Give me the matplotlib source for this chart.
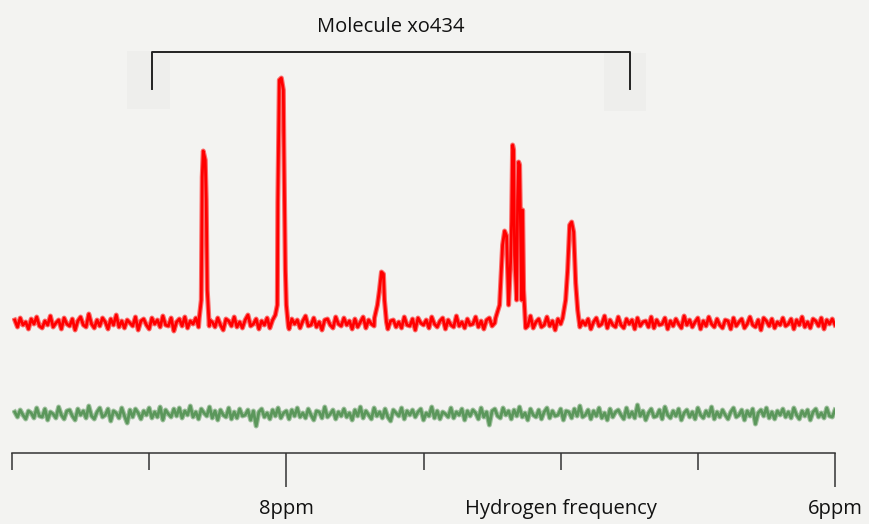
import matplotlib.pyplot as plt
import numpy as np

plt.rcParams['font.family'] = ['Open Sans', 'DejaVu Sans']

# baseline noise of the two traces, one value every 0.01 ppm starting at 8.99 ppm
red_noise = [
    3, -4, 5, -2, 1, -6, 4, -1, 6, -3, -5, 2, -2, 7, -4, 0, 3, -6, 5, -1,
    -3, 4, -7, 2, 6, -2, -4, 9, -1, -5, 3, -3, 5, 1, -6, 4, -2, 8, -4, 2,
    -5, 3, 0, -3, 6, -7, 2, 4, -2, -6, 5, -1, 3, -4, 7, -2, -3, 5, -8, 1,
    4, -3, 6, -5, 2, -1, 5, -4, -2, 7, -6, 3, 1, -4, 5, -2, -7, 4, 2, -3,
    6, -4, 1, -5, 3, 8, -3, -1, 4, -6, 2, -2, 5, -5, 3, 0, -4, 6, -3, 2,
    -6, 4, -1, 3, -5, 2, 7, -3, -2, 5, -4, 1, -7, 3, 4, -2, -5, 6, -1, -3,
    5, -2, 2, -6, 4, -4, 1, 6, -5, 3, -1, -3, 8, -2, -4, 5, -6, 2, 3, -4,
    1, -5, 6, -2, -3, 4, -7, 5, 0, -2, 3, -5, 6, -1, -4, 2, 5, -6, 3, -2,
    -4, 7, -3, 1, -5, 4, -2, -1, 6, -4, 2, -6, 3, 5, -3, 0, -5, 4, -2, 6,
    -1, -4, 3, -6, 5, -2, 2, -3, 7, -5, 1, 4, -4, -2, 6, -3, 2, -7, 4, -1,
    3, -5, 5, -1, -3, 6, -4, 2, -2, 4, -6, 1, 5, -3, -1, 7, -5, 3, -2, -4,
    6, -2, -5, 4, -1, 3, -6, 5, -3, 1, 2, -4, 6, -5, 3, -2, -1, 5, -6, 2,
    -3, 4, -1, -5, 7, -2, 3, -4, 1, 5, -6, 2, -3, 6, -1, -4, 4, -2, -5, 3,
    2, -6, 5, -3, 1, 4, -5, -1, 6, -2, -4, 3, -7, 5, 2, -3, 4, -5, 1, -2,
    5, -3, -1, 4, -6, 3, -2, 6, -4, 1, -5, 4, 2, -3, 5, -6, 3, -1, 4, -2,
]
green_noise = [
    2, -3, 4, -1, -5, 3, 1, -4, 6, -2, -3, 5, -6, 2, 0, -4, 7, -1, -5, 3,
    4, -2, -6, 5, -1, 3, -4, 8, -2, -5, 2, 6, -3, -1, 5, -7, 3, 1, -4, 6,
    -2, -9, 4, -3, 5, 1, -5, 3, -1, 6, -4, 2, -3, 7, -6, 4, 0, -3, 5, -2,
    6, -4, 3, -1, 8, -3, 2, -5, 5, 1, -2, 7, -4, 3, -6, 4, -1, -3, 6, -5,
    2, -4, 5, -2, -1, 4, -6, 3, -12, 2, 5, -3, 1, -5, 4, -2, 6, -4, 1, 3,
    -5, 4, -2, 6, -3, 1, -4, 5, -1, -6, 3, 2, -4, 7, -3, 0, 4, -5, 2, -2,
    5, -3, 1, -6, 4, -2, 7, -4, 3, -1, -5, 6, -2, 2, -4, 5, -3, -7, 4, 1,
    -2, 6, -5, 3, -1, 4, -3, 2, 5, -6, 1, -2, 7, -4, 3, -5, 2, 0, -3, 6,
    -4, 2, -1, 5, -6, 3, -2, 4, 1, -5, 6, -3, 2, -11, 3, 5, -2, -4, 6, -1,
    3, -5, 4, -2, 7, -3, 1, -6, 5, -1, -3, 4, -5, 2, 6, -4, 3, -2, -1, 5,
    -6, 3, 2, -4, 5, -2, 8, -3, -1, 4, -5, 3, -2, 6, -4, 1, -6, 5, -3, 2,
    4, -1, -5, 6, -3, 2, -4, 9, -2, 3, -6, 1, 5, -3, -2, 4, -5, 7, -1, -4,
    3, -2, 5, -6, 1, 4, -3, 2, -5, 6, -1, -4, 3, -2, 7, -5, 2, -3, 4, -1,
    -5, 2, 6, -3, -1, 4, -6, 3, -2, 5, -10, 1, 4, -2, 6, -4, 2, -5, 3, -1,
    5, -3, 2, -4, 6, -1, -5, 3, -2, 4, -6, 2, 5, -3, 1, -4, 6, -2, -3, 4,
]

# red trace peaks: vertices (ppm, intensity)
red_peak_ppm = [
    [8.3175, 8.310, 8.3066, 8.3029, 8.2956, 8.2920, 8.2883, 8.281],
    [8.0401, 8.0328, 8.031, 8.0255, 8.0182, 8.0109, 8.009, 8.0036, 8.0, 7.9927],
    [7.6788, 7.6679, 7.6606, 7.6533, 7.646, 7.6423, 7.635],
    [7.2372, 7.2226, 7.2117, 7.2044, 7.1971, 7.1898, 7.1825, 7.1788, 7.1752,
     7.1715, 7.1679, 7.1606, 7.1569, 7.1533, 7.1496, 7.146, 7.1423, 7.1387,
     7.135, 7.1277],
    [6.9927, 6.9818, 6.9745, 6.9672, 6.9599, 6.9526, 6.9453, 6.938, 6.9307],
]
red_peak_val = [
    [5, 23, 146, 172, 163, 123, 33, -3],
    [8, 18, 121, 243, 245, 233, 176, 53, 18, -3],
    [5, 18, 33, 51, 49, 23, 1],
    [5, 18, 78, 92, 87, 18, 61, 101, 178, 173, 68, 23, 123, 161, 158, 93, 23,
     113, 33, -5],
    [5, 23, 53, 98, 101, 91, 40, 13, -3],
]
green_offset = -91

major_ticks = [8.0, 6.0]
major_labels = ['8ppm', '6ppm']
minor_ticks = [9.0, 8.5, 7.5, 7.0, 6.5]
minor_labels = ['', '', '', 'Hydrogen frequency', '']

title = 'Molecule xo434'
bracket_from, bracket_to = 8.489, 6.748

bg = '#f3f3f1'
ink = '#222222'


def build_trace(noise, peaks_ppm=(), peaks_val=()):
    ppm = 8.99 - 0.01 * np.arange(len(noise))
    val = np.array(noise, dtype=float)
    keep = np.ones(len(ppm), dtype=bool)
    for p in peaks_ppm:
        keep &= ~((ppm <= max(p)) & (ppm >= min(p)))
    x = np.concatenate([ppm[keep]] + [np.array(p) for p in peaks_ppm])
    y = np.concatenate([val[keep]] + [np.array(v, dtype=float) for v in peaks_val])
    order = np.argsort(-x)
    return x[order], y[order]


fig = plt.figure(figsize=(8.69, 5.24), dpi=100, facecolor=bg)
ax = fig.add_axes([12 / 869, 71 / 524, 823 / 869, 453 / 524])
ax.set_facecolor(bg)

rx, ry = build_trace(red_noise, red_peak_ppm, red_peak_val)
gx, gy = build_trace(green_noise)
# wider half-opaque pass underneath, then the sharp line, for the dense blurred look
for x, y, c in [(gx, gy + green_offset, '#5b975b'), (rx, ry, '#ff0000')]:
    ax.plot(x, y, color=c, lw=3.6, alpha=0.55, solid_joinstyle='round')
    ax.plot(x, y, color=c, lw=2.0, solid_joinstyle='round')

ax.set_xlim(9.0, 6.0)
ax.set_ylim(-130, 323)

# bracket over the molecule region, with faint boxes behind its ends
for x0, x1, y0, y1 in [(8.580, 8.423, 214, 272), (6.843, 6.690, 212, 270)]:
    ax.fill_between([x0, x1], y0, y1, color='#eeeeec', lw=0, zorder=0)
ax.plot([bracket_from, bracket_from, bracket_to, bracket_to], [234, 271, 271, 234],
        color=ink, lw=1.4, clip_on=False)
ax.text((bracket_from + bracket_to) / 2, 296, title, ha='center', va='center',
        fontsize=14.5, color='#111111')

for s in ['left', 'top', 'right']:
    ax.spines[s].set_visible(False)
ax.spines['bottom'].set_color('#333333')
ax.spines['bottom'].set_linewidth(1.1)
ax.set_yticks([])
ax.set_xticks(major_ticks)
ax.set_xticklabels(major_labels)
ax.set_xticks(minor_ticks, minor=True)
ax.set_xticklabels(minor_labels, minor=True)
ax.tick_params(axis='x', which='major', length=24.5, width=1.1, color='#333333',
               pad=8.5, labelsize=14.5, labelcolor='#111111')
ax.tick_params(axis='x', which='minor', length=12.2, width=1.1, color='#333333',
               pad=20.8, labelsize=14.5, labelcolor='#111111')

plt.savefig('out.png', dpi=100, facecolor=bg)
